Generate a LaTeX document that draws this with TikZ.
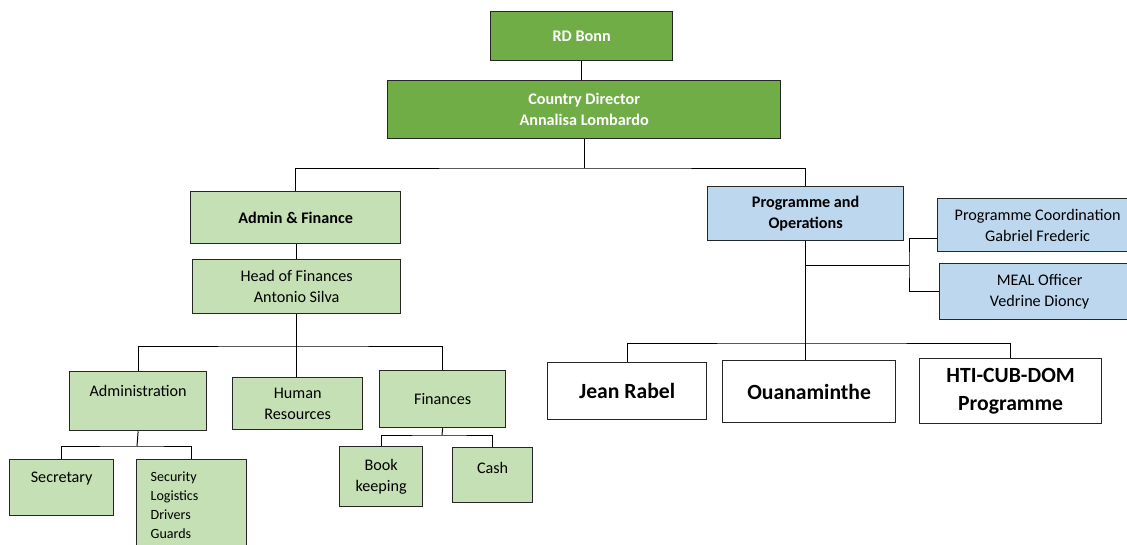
\documentclass[tikz,border=0pt]{standalone}
\usepackage{fontspec}
\setmainfont{Carlito}
\definecolor{darkgreen}{HTML}{70AD47}
\definecolor{lightgreen}{HTML}{C5E0B4}
\definecolor{lightblue}{HTML}{BDD7EE}
\newcommand{\unitpx}{0.025cm}
\begin{document}
\begin{tikzpicture}[x=0.025cm, y=-0.025cm,
  wh/.style 2 args={minimum width=#1*\unitpx, minimum height=#2*\unitpx},
  box/.style={draw=black!85, line width=0.9pt, anchor=north west, align=center, inner sep=2pt, font=\fontsize{11.5}{15}\selectfont},
  topbox/.style={box, fill=darkgreen, text=white, font=\fontsize{11.5}{15}\selectfont\bfseries},
  greenbox/.style={box, fill=lightgreen},
  bluebox/.style={box, fill=lightblue},
  sitebox/.style={box, fill=white, font=\fontsize{15.4}{20}\selectfont\bfseries},
  link/.style={line width=0.7pt}]
\clip (0,0) rectangle (1127,545);
% head office
\node [topbox, wh={182}{49}] (rd) at (490,11) {RD Bonn};
\node [topbox, wh={393}{58}] (cd) at (387,80) {Country Director\\Annalisa Lombardo};
% admin side
\node [greenbox, wh={210}{52}, font=\fontsize{11.5}{15}\selectfont\bfseries] (af) at (190,191) {Admin \& Finance};
\node [greenbox, wh={208}{54}] (hof) at (192,259) {Head of Finances\\Antonio Silva};
\node [greenbox, wh={137}{59}] (adm) at (69,371) {Administration\\\mbox{}};
\node [greenbox, wh={130}{52}] (hr) at (232,377) {Human\\Resources};
\node [greenbox, wh={126}{57}] (fin) at (379,370) {Finances};
\node [greenbox, wh={104}{56}] (sec) at (9,459) {Secretary\\\mbox{}};
\node [greenbox, wh={110}{92}, align=left, inner xsep=14*\unitpx, text width=82*\unitpx, font=\fontsize{10}{13.5}\selectfont] (staff) at (136,459) {Security\\Logistics\\Drivers\\Guards};
\node [greenbox, wh={83}{60}] (book) at (339,446) {Book\\keeping};
\node [greenbox, wh={80}{55}] (cash) at (452,447) {Cash\\[-5pt]\mbox{}};
% programme side
\node [bluebox, wh={196}{54}, font=\fontsize{11.5}{15}\selectfont\bfseries] (po) at (707,186) {Programme and\\Operations};
\node [bluebox, wh={200}{53}] (pc) at (937,198) {Programme Coordination\\Gabriel Frederic};
\node [bluebox, wh={200}{56}] (meal) at (939,263) {MEAL Officer\\Vedrine Dioncy};
\node [sitebox, wh={159}{57}] (jr) at (547,362) {Jean Rabel};
\node [sitebox, wh={173}{62}] (ouan) at (722,360) {Ouanaminthe};
\node [sitebox, wh={182}{65}] (hti) at (919,358) {HTI-CUB-DOM\\Programme};
% bus points
\coordinate (topbus) at (580,168);
\coordinate (hofbus) at (296,346);
\coordinate (admbus) at (137,446);
\coordinate (finbus) at (442,435);
\coordinate (sidebus) at (909,265);
\coordinate (lowbus) at (805,343);
% connectors
\draw [link] (rd.south) -- (rd.south |- cd.north);
\draw [link] (cd.south) -- (cd.south |- topbus);
\draw [link] (af.north) |- (topbus) -| (po.north);
\draw [link] (hof.north) -- (hof.north |- af.south);
\draw [link] (hof.south) -- (hof.south |- hr.north);
\draw [link] (adm.north) |- (hofbus) -| (fin.north);
\draw [link] (adm.south) -- (admbus);
\draw [link] (sec.north) |- (admbus) -| (staff.north);
\draw [link] (fin.south) -- (finbus);
\draw [link] (book.north) |- (finbus) -| (cash.north);
\draw [link] (po.south) -- (po.south |- ouan.north);
\draw [link] (po.south |- sidebus) -- (sidebus);
\draw [link] ([yshift=-13*\unitpx]pc.west) -| (sidebus) |- (meal.west);
\draw [link] (jr.north) |- (lowbus) -| (hti.north);
\end{tikzpicture}
\end{document}
